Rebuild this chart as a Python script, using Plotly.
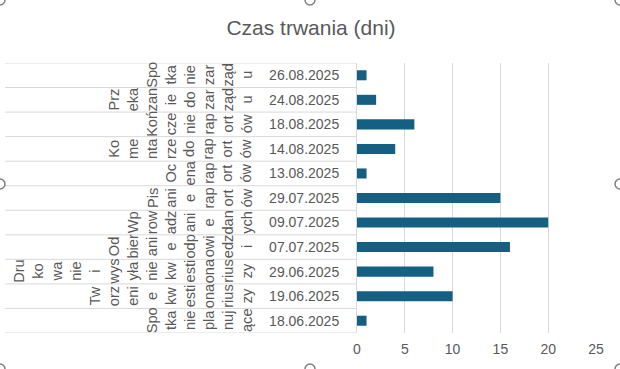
import plotly.graph_objects as go

# Data (bottom to top in chart order)
dates = ["18.06.2025", "19.06.2025", "29.06.2025", "07.07.2025", "09.07.2025",
         "29.07.2025", "13.08.2025", "14.08.2025", "18.08.2025", "24.08.2025",
         "26.08.2025"]
durations = [1, 10, 8, 16, 20, 15, 1, 4, 6, 2, 1]
tasks = ["Spotkanie planujące", "Tworzenie kwestionariuszy",
         "Drukowanie i wysyłanie kwestionariuszy", "Odbieranie odpowiedzi",
         "Wprowadzanie danych", "Pisanie raportów", "Ocena raportów",
         "Komentarze do raportów", "Kończenie raportów",
         "Przekazanie do zarządu", "Spotkanie zarządu"]
# how the task labels are wrapped in the narrow rotated cells
task_lines = [
    ["Spo", "tka", "nie", "pla", "nuj", "ące"],
    ["Tw", "orz", "eni", "e", "kw", "esti", "ona", "rius", "zy"],
    ["Dru", "ko", "wa", "nie", "i", "wys", "yła", "nie", "kw", "esti", "ona", "rius", "zy"],
    ["Od", "bier", "ani", "e", "odp", "owi", "edz", "i"],
    ["Wp", "row", "adz", "ani", "e", "dan", "ych"],
    ["Pis", "ani", "e", "rap", "ort", "ów"],
    ["Oc", "ena", "rap", "ort", "ów"],
    ["Ko", "me", "nta", "rze", "do", "rap", "ort", "ów"],
    ["Koń", "cze", "nie", "rap", "ort", "ów"],
    ["Prz", "eka", "zan", "ie", "do", "zar", "ząd", "u"],
    ["Spo", "tka", "nie", "zar", "ząd", "u"],
]
x_ticks = [0, 5, 10, 15, 20, 25]
title = "Czas trwania (dni)"

W, H = 620, 369
L, R, T, B = 357, 596, 63, 333   # plot area in pixels
FONT = "Liberation Sans, Arial, sans-serif"
GRAY = "#595959"
LINE = "#d9d9d9"


def px_x(p):
    return (p - L) / (R - L)


def px_y(p):
    return (B - p) / (B - T)


fig = go.Figure(go.Bar(
    x=durations, y=dates, orientation="h",
    marker=dict(color="#156082", line=dict(width=0)),
    width=0.41, hoverinfo="x+y",
))

shapes = []
# row separator lines of the category table
for i in range(len(dates) + 1):
    shapes.append(dict(type="line", xref="paper", yref="y",
                       x0=px_x(5), x1=0, y0=i - 0.5, y1=i - 0.5,
                       line=dict(color=LINE, width=1), layer="below"))

# chart selection handles (Excel)
for (cx, cy) in [(0, 184), (620, 184), (310, 0), (310, 369), (0, 0), (620, 0), (0, 369), (620, 369)]:
    r = 5
    shapes.append(dict(type="circle", xref="paper", yref="paper",
                       x0=px_x(cx - r), x1=px_x(cx + r), y0=px_y(cy + r), y1=px_y(cy - r),
                       line=dict(color="#7f7f7f", width=1.5), fillcolor="white"))

annotations = []
for i, lines in enumerate(task_lines):
    annotations.append(dict(
        text="<br>".join(lines), xref="paper", yref="y",
        x=px_x(256), y=i, xanchor="right", yanchor="middle",
        textangle=-90, showarrow=False, borderpad=0, align="center",
        font=dict(family=FONT, size=14.6, color=GRAY),
    ))

fig.update_layout(
    width=W, height=H,
    margin=dict(l=L, r=W - R, t=T, b=H - B, pad=0),
    paper_bgcolor="white", plot_bgcolor="white",
    title=dict(text=title, x=311 / W, xref="container", xanchor="center",
               y=1 - 28 / H, yref="container", yanchor="middle",
               font=dict(family=FONT, size=21, color=GRAY)),
    showlegend=False,
    xaxis=dict(range=[0, 25], tickvals=x_ticks, showgrid=True, gridcolor=LINE,
               gridwidth=1, zeroline=False, showline=False, ticks="",
               tickfont=dict(family=FONT, size=14, color=GRAY),
               ticklabelstandoff=6, fixedrange=True),
    yaxis=dict(type="category", categoryorder="array", categoryarray=dates,
               range=[-0.5, len(dates) - 0.5], showgrid=False, zeroline=False,
               showline=True, linecolor=LINE, linewidth=1, ticks="",
               tickfont=dict(family=FONT, size=14, color=GRAY),
               ticklabelstandoff=14, fixedrange=True),
    shapes=shapes, annotations=annotations,
)

fig.write_html("out.html", config={"displayModeBar": False},
               post_script="document.body.style.margin='0';document.body.style.overflow='hidden';")
